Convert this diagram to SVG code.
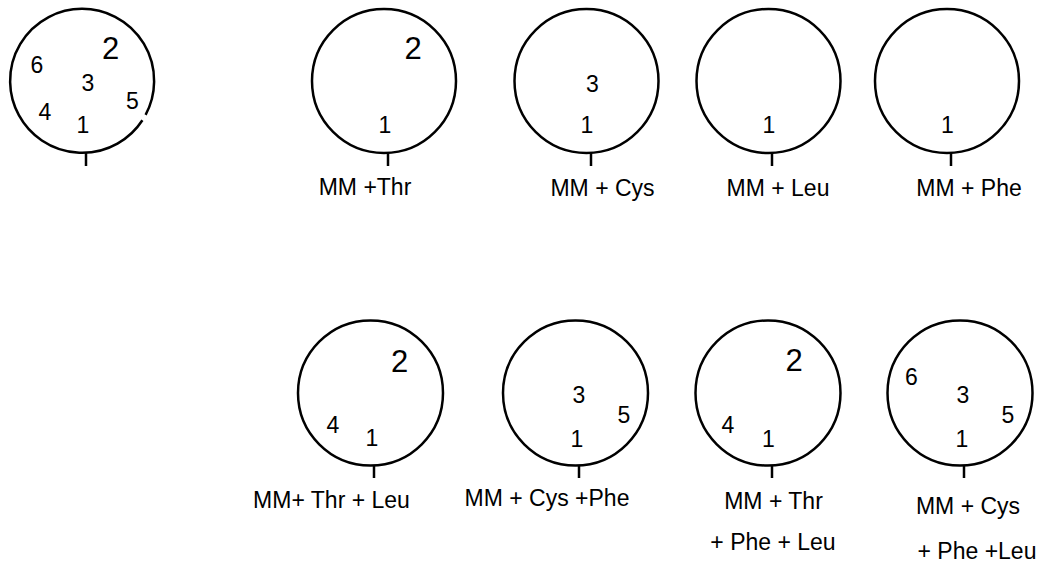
<svg xmlns="http://www.w3.org/2000/svg" width="1044" height="564" viewBox="0 0 1044 564">
  <style>
    .ring { fill: none; stroke: #000; stroke-width: 2.5; }
    .tick { stroke: #000; stroke-width: 2.5; }
    text { font-family: "Liberation Sans", Arial, sans-serif; fill: #000; text-anchor: middle; }
    .n { font-size: 23px; }
    .big { font-size: 31px; }
    .cap { font-size: 23px; }
  </style>
  <rect width="1044" height="564" fill="#fff"/>

  <!-- reference plate: all six spots -->
  <g id="plate-all">
    <path class="ring" d="M 142.4 120.2 A 72 72 0 1 1 145.6 114.8"/>
    <line class="tick" x1="86" y1="153" x2="86" y2="166"/>
    <text class="n" x="37" y="73">6</text>
    <text class="big" x="110.5" y="59">2</text>
    <text class="n" x="88" y="91">3</text>
    <text class="n" x="132.5" y="109">5</text>
    <text class="n" x="45" y="120">4</text>
    <text class="n" x="83" y="133">1</text>
  </g>

  <g id="plate-thr">
    <circle class="ring" cx="384" cy="81" r="72"/>
    <line class="tick" x1="388" y1="153" x2="388" y2="166"/>
    <text class="big" x="413" y="59">2</text>
    <text class="n" x="385" y="133">1</text>
    <text class="cap" x="365" y="195">MM +Thr</text>
  </g>

  <g id="plate-cys">
    <circle class="ring" cx="586.5" cy="81" r="72"/>
    <line class="tick" x1="591" y1="153" x2="591" y2="166"/>
    <text class="n" x="592.5" y="92">3</text>
    <text class="n" x="587" y="133">1</text>
    <text class="cap" x="602.5" y="196">MM + Cys</text>
  </g>

  <g id="plate-leu">
    <circle class="ring" cx="768.5" cy="81" r="72"/>
    <line class="tick" x1="772" y1="153" x2="772" y2="166"/>
    <text class="n" x="769" y="133">1</text>
    <text class="cap" x="778" y="196">MM + Leu</text>
  </g>

  <g id="plate-phe">
    <circle class="ring" cx="947" cy="81" r="72"/>
    <line class="tick" x1="951" y1="153" x2="951" y2="166"/>
    <text class="n" x="947.5" y="133">1</text>
    <text class="cap" x="969" y="196">MM + Phe</text>
  </g>

  <g id="plate-thr-leu">
    <circle class="ring" cx="370.5" cy="393" r="72.5"/>
    <line class="tick" x1="374" y1="465.5" x2="374" y2="478"/>
    <text class="big" x="399.5" y="372">2</text>
    <text class="n" x="333" y="433">4</text>
    <text class="n" x="372" y="446">1</text>
    <text class="cap" x="331.5" y="508">MM+ Thr + Leu</text>
  </g>

  <g id="plate-cys-phe">
    <circle class="ring" cx="575.5" cy="393" r="72.5"/>
    <line class="tick" x1="579" y1="465.5" x2="579" y2="478"/>
    <text class="n" x="579" y="403">3</text>
    <text class="n" x="624" y="423">5</text>
    <text class="n" x="577" y="447">1</text>
    <text class="cap" x="547" y="506">MM + Cys +Phe</text>
  </g>

  <g id="plate-thr-phe-leu">
    <circle class="ring" cx="768" cy="393" r="72.5"/>
    <line class="tick" x1="772" y1="465.5" x2="772" y2="478"/>
    <text class="big" x="794" y="371">2</text>
    <text class="n" x="728" y="433">4</text>
    <text class="n" x="768.5" y="447">1</text>
    <text class="cap" x="773.5" y="509">MM + Thr</text>
    <text class="cap" x="773" y="550">+ Phe + Leu</text>
  </g>

  <g id="plate-cys-phe-leu">
    <circle class="ring" cx="960" cy="393" r="72.5"/>
    <line class="tick" x1="964" y1="465.5" x2="964" y2="478"/>
    <text class="n" x="911.5" y="385">6</text>
    <text class="n" x="963" y="403">3</text>
    <text class="n" x="1008" y="423">5</text>
    <text class="n" x="962" y="447">1</text>
    <text class="cap" x="968" y="514">MM + Cys</text>
    <text class="cap" x="977" y="559">+ Phe +Leu</text>
  </g>

  <!-- no connectors between plates -->
  <g id="connectors"/>
</svg>
